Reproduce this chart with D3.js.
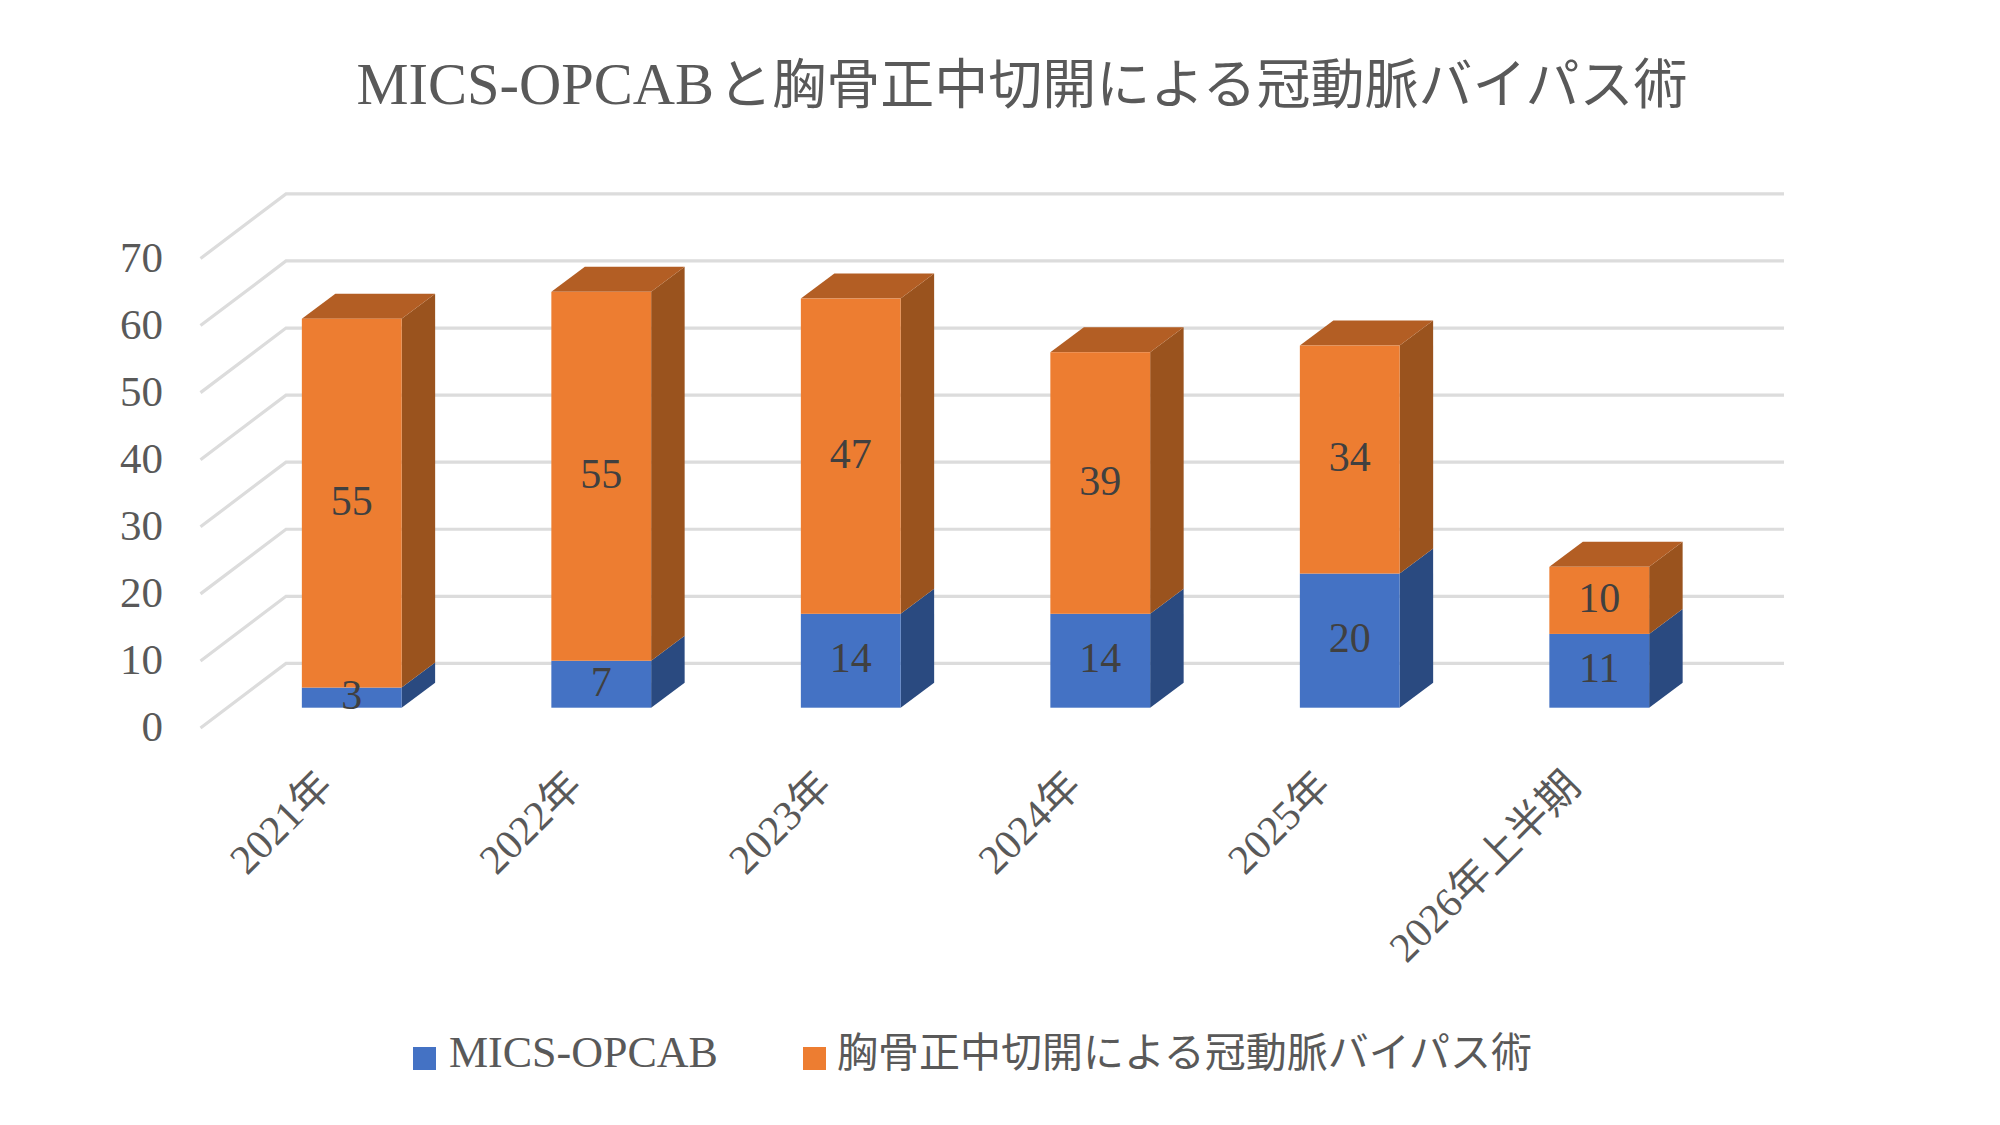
<!DOCTYPE html>
<html lang="ja">
<head>
<meta charset="utf-8">
<title>MICS-OPCABと胸骨正中切開による冠動脈バイパス術</title>
<script src="https://cdn.jsdelivr.net/npm/d3@7/dist/d3.min.js"></script>
<style>
  html, body { margin: 0; padding: 0; background: #fff; }
  svg, svg text { font-family: "Liberation Serif", "Noto Sans CJK JP", serif; }
  svg { display: block; }
  .domain { display: none; }
</style>
</head>
<body>
<svg id="chart" width="2000" height="1125"></svg>
<script>
// Surgery counts per period
const categories = ["2021年", "2022年", "2023年", "2024年", "2025年", "2026年上半期"];
const micsOpcab = [3, 7, 14, 14, 20, 11];
const sternotomy = [55, 55, 47, 39, 34, 10];
const seriesNames = ["MICS-OPCAB", "胸骨正中切開による冠動脈バイパス術"];
const seriesKeys = ["mics", "sternotomy"];
const valueTicks = [0, 10, 20, 30, 40, 50, 60, 70];
const titleLatin = "MICS-OPCAB";
const titleJapanese = "と胸骨正中切開による冠動脈バイパス術";

const palette = {
  mics: { front: "#4472c4", side: "#2a4a80", top: "#305594" },
  sternotomy: { front: "#ed7d31", side: "#9a531e", top: "#b35e24" }
};
const inkTitle = "#595959";
const inkLabel = "#404040";
const gridColor = "#dcdcdc";

const svg = d3.select("#chart");

// Oblique projection: bars stand partway into the floor
const barDepth = { dx: 33.5, dy: -25 };
const frontEdge = { dx: -25, dy: 20.3 };   // front rim of the floor, relative to the bar base
const backEdge = { dx: 60, dy: -44.3 };    // back wall, relative to the bar base

const x = d3.scaleBand().domain(categories).range([227, 1724]).paddingInner(0.6).paddingOuter(0.3);
const y = d3.scaleLinear().domain([0, 70]).range([707.7, 238.2]);

// Floor-to-wall grid: a slanted run on the side wall, then across the back wall
const wallLeft = x.range()[0] + frontEdge.dx - 1.5;
const wallBack = wallLeft + 85.5;
const wallRight = 1784;
const grid = svg.append("g").attr("fill", "none").attr("stroke", gridColor);
grid.selectAll("path").data(valueTicks).join("path")
  .attr("stroke-width", 3.2)
  .attr("d", v => d3.line()([
    [wallLeft, y(v) + frontEdge.dy],
    [wallBack, y(v) + backEdge.dy],
    [wallRight, y(v) + backEdge.dy]
  ]));

// Stacked boxes
const rows = categories.map((c, i) => ({ category: c, mics: micsOpcab[i], sternotomy: sternotomy[i] }));
const stacked = d3.stack().keys(seriesKeys)(rows);

const layers = svg.append("g").selectAll("g").data(stacked).join("g");
layers.each(function (layer, layerIndex) {
  const colors = palette[layer.key];
  const g = d3.select(this);
  const isTop = layerIndex === stacked.length - 1;
  layer.forEach(d => {
    const x0 = x(d.data.category), x1 = x0 + x.bandwidth();
    const yBase = y(d[0]), yTop = y(d[1]);
    g.append("path").attr("fill", colors.side).attr("d", d3.line()([
      [x1, yBase], [x1 + barDepth.dx, yBase + barDepth.dy],
      [x1 + barDepth.dx, yTop + barDepth.dy], [x1, yTop]
    ]) + "Z");
    if (isTop) {
      g.append("path").attr("fill", colors.top).attr("d", d3.line()([
        [x0, yTop], [x0 + barDepth.dx, yTop + barDepth.dy],
        [x1 + barDepth.dx, yTop + barDepth.dy], [x1, yTop]
      ]) + "Z");
    }
    g.append("rect").attr("fill", colors.front)
      .attr("x", x0).attr("y", yTop)
      .attr("width", x.bandwidth()).attr("height", yBase - yTop);
  });
});

// Value labels centred on each front face
const labelLayers = svg.append("g").selectAll("g").data(stacked).join("g");
labelLayers.selectAll("text").data(d => d).join("text")
  .attr("x", d => x(d.data.category) + x.bandwidth() / 2)
  .attr("y", d => (y(d[0]) + y(d[1])) / 2 + 11.5)
  .attr("text-anchor", "middle")
  .attr("font-size", 42)
  .attr("fill", inkLabel)
  .text(d => d[1] - d[0]);

// Value axis
svg.append("g")
  .attr("transform", `translate(163,${frontEdge.dy - 1})`)
  .call(d3.axisLeft(y).tickValues(valueTicks).tickSize(0).tickPadding(0))
  .call(g => g.attr("font-family", null).selectAll("text")
    .attr("font-size", 43).attr("fill", inkTitle));

// Category axis with slanted labels
svg.append("g")
  .attr("transform", "translate(0,778)")
  .call(d3.axisBottom(x).tickSize(0).tickPadding(0))
  .call(g => g.attr("font-family", null).selectAll("text")
    .attr("font-size", 41.5)
    .attr("fill", inkTitle)
    .attr("text-anchor", "end")
    .attr("dy", "0.35em")
    .attr("y", 0)
    .attr("transform", "translate(-27,0) rotate(-45)"));

// Title
const title = svg.append("text")
  .attr("x", 1022).attr("y", 104)
  .attr("text-anchor", "middle")
  .attr("fill", inkTitle);
title.append("tspan").attr("font-size", 58.5).text(titleLatin);
title.append("tspan").attr("font-size", 54).attr("dx", 4).text(titleJapanese);

// Legend
const legendX = d3.scaleOrdinal().domain(seriesKeys).range([413, 803]);
const legend = svg.append("g").selectAll("g").data(seriesKeys).join("g")
  .attr("transform", k => `translate(${legendX(k)},1047)`);
legend.append("rect").attr("width", 23).attr("height", 23).attr("fill", k => palette[k].front);
legend.append("text")
  .attr("x", (k, i) => i === 0 ? 36 : 34)
  .attr("y", 20)
  .attr("font-size", (k, i) => i === 0 ? 44 : 41)
  .attr("fill", inkTitle)
  .text((k, i) => seriesNames[i]);
</script>
</body>
</html>
